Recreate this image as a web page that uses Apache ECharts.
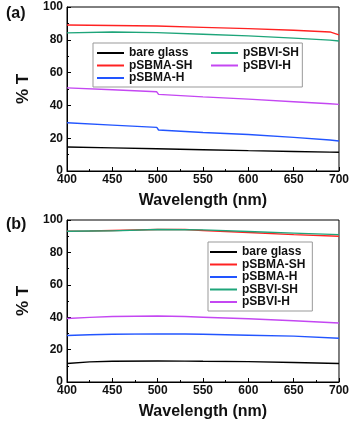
<!DOCTYPE html>
<html>
<head>
<meta charset="utf-8">
<script src="https://cdn.jsdelivr.net/npm/echarts@6/dist/echarts.min.js"></script>
<style>
  html, body { margin: 0; padding: 0; background: #fff; }
  #chart { width: 352px; height: 421px; }
</style>
</head>
<body>
<div id="chart"></div>
<script>
// panel (a)
const waveA = [400, 450, 499, 501, 550, 600, 650, 690, 700];
const bareA = [14.6, 14.1, 13.6, 13.6, 13.0, 12.4, 11.9, 11.5, 11.4];
const sbmaShA = [89.0, 88.7, 88.4, 88.4, 87.6, 86.8, 85.8, 84.8, 83.0];
const sbmaHA = [29.4, 28.0, 26.6, 25.0, 23.5, 22.3, 20.5, 18.9, 18.3];
const sbviShA = [84.2, 84.8, 84.4, 84.4, 83.4, 82.4, 81.0, 79.8, 79.3];
const sbviHA = [50.7, 49.5, 48.3, 46.7, 45.2, 43.8, 42.2, 41.0, 40.6];

// panel (b)
const waveB = [400, 425, 450, 500, 530, 550, 600, 650, 700];
const bareB = [11.4, 12.4, 12.8, 13.0, 12.9, 12.8, 12.6, 12.0, 11.4];
const sbmaShB = [93.1, 93.2, 93.5, 94.1, 94.1, 93.5, 92.3, 91.0, 90.0];
const sbmaHB = [28.7, 29.2, 29.5, 29.7, 29.6, 29.5, 28.9, 28.3, 27.0];
const sbviShB = [93.1, 93.2, 93.3, 94.1, 94.0, 93.9, 92.9, 91.9, 91.0];
const sbviHB = [39.2, 39.9, 40.4, 40.7, 40.4, 40.0, 39.0, 37.8, 36.4];

const names = ['bare glass', 'pSBMA-SH', 'pSBMA-H', 'pSBVI-SH', 'pSBVI-H'];
const colors = ['#000000', '#ff2222', '#2255ff', '#1ea57a', '#c447f2'];
const xTicks = [400, 450, 500, 550, 600, 650, 700];
const yTicks = [0, 20, 40, 60, 80, 100];

const font = '"Liberation Sans", Arial, sans-serif';

const pair = (xs, ys) => xs.map((x, i) => [x, ys[i]]);

function xAxis(grid) {
  return {
    type: 'value', gridIndex: grid, min: xTicks[0], max: xTicks[xTicks.length - 1], interval: 50,
    name: 'Wavelength (nm)', nameLocation: 'middle', nameGap: 22,
    nameTextStyle: { fontFamily: font, fontWeight: 'bold', fontSize: 16, color: '#111' },
    axisLine: { lineStyle: { color: '#000', width: 1 } },
    axisTick: { inside: true, length: 4, lineStyle: { color: '#000' } },
    minorTick: { show: true, splitNumber: 2, length: 2, lineStyle: { color: '#000' } },
    axisLabel: { fontFamily: font, fontWeight: 'bold', fontSize: 12, color: '#111', margin: 3 },
    splitLine: { show: false }
  };
}

function yAxis(grid) {
  return {
    type: 'value', gridIndex: grid, min: yTicks[0], max: yTicks[yTicks.length - 1], interval: 20,
    name: '% T', nameLocation: 'middle', nameGap: 34, nameRotate: 90,
    nameTextStyle: { fontFamily: font, fontWeight: 'bold', fontSize: 17, color: '#111' },
    axisLine: { show: true, lineStyle: { color: '#000', width: 1 } },
    axisTick: { show: true, inside: true, length: 4, lineStyle: { color: '#000' } },
    minorTick: { show: true, splitNumber: 2, length: 2, lineStyle: { color: '#000' } },
    axisLabel: { fontFamily: font, fontWeight: 'bold', fontSize: 12, color: '#111', margin: 4 },
    splitLine: { show: false }
  };
}

function lines(grid, wave, sets) {
  return sets.map((vals, i) => ({
    name: names[i], type: 'line', xAxisIndex: grid, yAxisIndex: grid,
    data: pair(wave, vals), showSymbol: false, symbol: 'none',
    lineStyle: { width: 1.4, color: colors[i] }, itemStyle: { color: colors[i] },
    z: 3
  }));
}

const legendText = { fontFamily: font, fontWeight: 'bold', fontSize: 12, color: '#111' };
const legendBase = {
  orient: 'vertical', icon: 'rect', itemWidth: 27, itemHeight: 2, itemGap: 0.5,
  textStyle: legendText, selectedMode: false
};

const chart = echarts.init(document.getElementById('chart'));
chart.setOption({
  animation: false,
  color: colors,
  title: [
    { text: '(a)', left: 1, top: 1, textStyle: { fontFamily: font, fontWeight: 'bold', fontSize: 16, color: '#111' } },
    { text: '(b)', left: 1, top: 212, textStyle: { fontFamily: font, fontWeight: 'bold', fontSize: 16, color: '#111' } }
  ],
  grid: [
    { left: 67, top: 7, width: 272, height: 164, show: true, borderColor: '#000', borderWidth: 1 },
    { left: 67, top: 220, width: 272, height: 164, show: true, borderColor: '#000', borderWidth: 1 }
  ],
  xAxis: [xAxis(0), xAxis(1)],
  yAxis: [yAxis(0), yAxis(1)],
  legend: [
    Object.assign({}, legendBase, {
      data: names.slice(0, 3), left: 93, top: 43,
      padding: [4, 110, 3, 4], borderColor: '#999', borderWidth: 1
    }),
    Object.assign({}, legendBase, { data: names.slice(3), left: 211, top: 47, padding: 0 }),
    Object.assign({}, legendBase, {
      data: names, left: 208, top: 242,
      padding: [4, 7, 3, 2], borderColor: '#999', borderWidth: 1
    })
  ],
  series: [
    ...lines(0, waveA, [bareA, sbmaShA, sbmaHA, sbviShA, sbviHA]),
    ...lines(1, waveB, [bareB, sbmaShB, sbmaHB, sbviShB, sbviHB])
  ]
});
</script>
</body>
</html>
